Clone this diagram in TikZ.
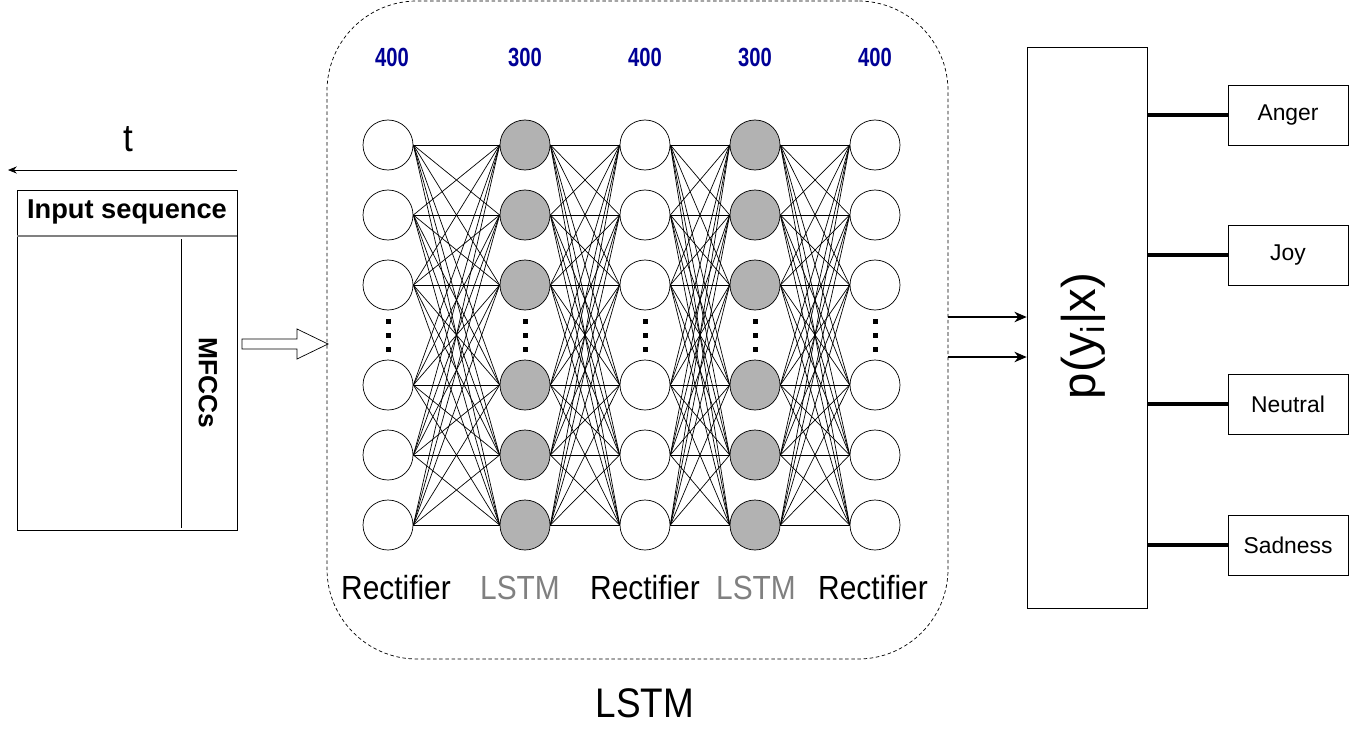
\documentclass[tikz,border=0pt]{standalone}
\usepackage{fontspec}
\setmainfont{Liberation Sans}
\usetikzlibrary{arrows.meta}

\definecolor{sizeblue}{RGB}{0,0,150}
\definecolor{lstmgray}{RGB}{128,128,128}
\newcommand\tallbox[2]{\scalebox{1}[#1]{#2}}

\begin{document}
\begin{tikzpicture}[
    neuron/.style={circle, draw, thin, minimum size=1cm, inner sep=0pt},
    cell/.style={neuron, fill=gray!60},
    classbox/.style={draw, thin, minimum width=2.4cm, minimum height=1.2cm, font=\fontsize{13}{15}\selectfont},
    layername/.style={font=\fontsize{17}{20}\selectfont},
    sizelabel/.style={font=\bfseries\fontsize{11.5}{13}\selectfont, text=sizeblue}
  ]
  \useasboundingbox (0,0) rectangle (27,14.68);

  % input sequence
  \node[draw, thin, minimum width=4.4cm, minimum height=6.8cm] (input) at (2.54,7.48) {};
  \draw[gray, semithick] (0.34,9.96) -- (4.74,9.96);
  \draw[thin] (3.62,9.9) -- (3.62,4.12);
  \node[font=\bfseries\fontsize{15.5}{18}\selectfont] (inhead) at (2.54,10.44) {Input sequence};
  \node[font=\bfseries\fontsize{15}{18}\selectfont, rotate=-90] (mfcc) at (4.16,7.02) {MFCCs};

  % time axis
  \coordinate (tr) at (4.74,11.28);
  \coordinate (tl) at (0.16,11.28);
  \draw[-{Stealth[length=5pt,width=4pt]}] (tr) -- (tl);
  \node[font=\fontsize{20}{24}\selectfont] (tlabel) at (2.56,11.9) {\tallbox{1.1}{t}};

  % hollow arrow into the network
  \draw[fill=white] (4.84,7.9) -- (5.94,7.9) -- (5.94,8.1) -- (6.56,7.8) -- (5.94,7.5) -- (5.94,7.7) -- (4.84,7.7) -- cycle;

  % network
  \node[draw, dashed, dash pattern=on 2pt off 1.5pt, rounded corners=1.8cm,
        minimum width=12.42cm, minimum height=13.16cm] (lstmbox) at (12.75,8.08) {};

  \foreach \c/\x/\sty in {1/7.76/neuron, 2/10.5/cell, 3/12.9/neuron, 4/15.1/cell, 5/17.5/neuron}
    \foreach \r/\y in {1/11.78, 2/10.38, 3/8.98, 4/6.98, 5/5.58, 6/4.18}
      \node[\sty] (n\c-\r) at (\x,\y) {};

  \foreach \a/\b in {1/2, 2/3, 3/4, 4/5}
    \foreach \i in {1,...,6}
      \foreach \j in {1,...,6}
        \draw[thin] (n\a-\i.east) -- (n\b-\j.west);

  % vertical dots
  \foreach \x in {7.76, 10.5, 12.9, 15.1, 17.5}
    \foreach \y in {8.26, 7.98, 7.70}
      \fill (\x-0.05,\y-0.05) rectangle ++(0.1,0.1);

  \foreach \c/\x/\n in {1/7.84/400, 2/10.5/300, 3/12.9/400, 4/15.1/300, 5/17.5/400}
    \node[sizelabel] (size\c) at (\x,13.54) {\tallbox{1.3}{\n}};

  \node[layername] (act1) at (7.92,2.92) {\tallbox{1.12}{Rectifier}};
  \node[layername, text=lstmgray] (act2) at (10.4,2.92) {\tallbox{1.12}{LSTM}};
  \node[layername] (act3) at (12.9,2.92) {\tallbox{1.12}{Rectifier}};
  \node[layername, text=lstmgray] (act4) at (15.12,2.92) {\tallbox{1.12}{LSTM}};
  \node[layername] (act5) at (17.46,2.92) {\tallbox{1.12}{Rectifier}};

  \node[font=\fontsize{21}{25}\selectfont] (netname) at (12.9,0.62) {\tallbox{1.12}{LSTM}};

  % output
  \node[draw, thin, minimum width=2.4cm, minimum height=11.22cm] (out) at (21.74,8.13) {};
  \node[font=\fontsize{27}{32}\selectfont, rotate=90] (prob) at (21.66,7.96) {p(y\textsubscript{i}|x)};

  \coordinate (o1) at (18.96,8.34);
  \coordinate (o2) at (18.96,7.54);
  \draw[semithick, -{Stealth[length=7pt,width=6pt]}] (o1) -- (o1 -| out.west);
  \draw[semithick, -{Stealth[length=7pt,width=6pt]}] (o2) -- (o2 -| out.west);

  \foreach \k/\n/\y in {anger/Anger/12.38, joy/Joy/9.58, neutral/Neutral/6.6, sadness/Sadness/3.78} {
    \node[classbox] (\k) at (25.76,\y) {\n};
    \draw[line width=2pt] (\k.west) -- (\k.west -| out.east);
  }
\end{tikzpicture}
\end{document}
